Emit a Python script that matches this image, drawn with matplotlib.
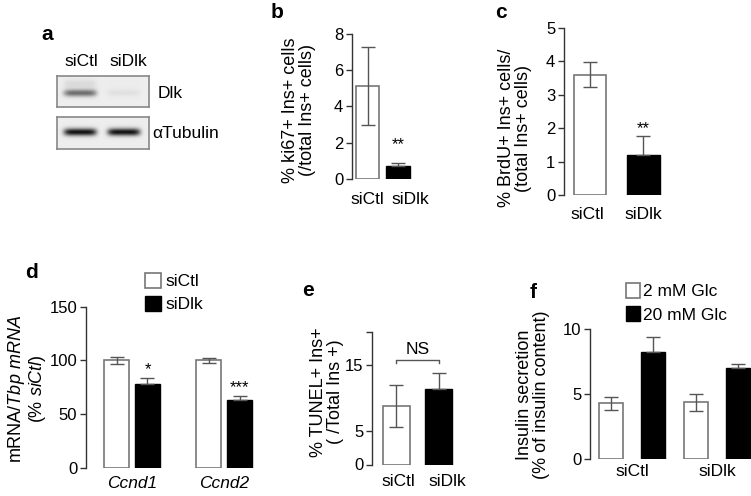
import matplotlib
matplotlib.use("Agg")
import matplotlib.pyplot as plt
import numpy as np

plt.rcParams['font.family'] = ['Liberation Sans', 'DejaVu Sans']
plt.rcParams['mathtext.fontset'] = 'custom'
plt.rcParams['mathtext.rm'] = 'Liberation Sans'
plt.rcParams['mathtext.it'] = 'Liberation Sans:italic'

# ---- data ----
groups2 = ['siCtl', 'siDlk']

# b: ki67
ki67_vals = [5.13, 0.73]
ki67_err = [2.14, 0.17]
# c: BrdU
brdu_vals = [3.6, 1.19]
brdu_err = [0.38, 0.57]
# d: qPCR
genes = ['Ccnd1', 'Ccnd2']
mrna_ctl = [100, 100]
mrna_ctl_err = [3.0, 2.5]
mrna_dlk = [78, 63]
mrna_dlk_err = [5.9, 3.7]
mrna_stars = ['*', '***']
# e: TUNEL
tunel_vals = [8.8, 11.4]
tunel_err = [3.1, 2.3]
# f: insulin secretion
glc_labels = ['2 mM Glc', '20 mM Glc']
ins_low = [4.3, 4.37]
ins_low_err = [0.5, 0.63]
ins_high = [8.2, 7.0]
ins_high_err = [1.2, 0.3]

# a: blot band intensities (siCtl, siDlk)
blot_rows = ['Dlk', 'αTubulin']
band_int = [[0.5, 0.05], [0.85, 0.85]]

W, H = 751, 496
fig = plt.figure(figsize=(7.51, 4.96), dpi=100)

EDGE = '#777777'
ERR = '#555555'
FS = 12
LFS = 13


def px_axes(x0, y0, x1, y1):
    return fig.add_axes([x0 / W, 1 - y1 / H, (x1 - x0) / W, (y1 - y0) / H])


def style(ax, pad):
    for s in ['top', 'right', 'bottom']:
        ax.spines[s].set_visible(False)
    ax.spines['left'].set_color('#333333')
    ax.spines['left'].set_linewidth(1.0)
    ax.tick_params(axis='y', length=4.3, width=1.0, color='#333333', pad=2, labelsize=FS)
    ax.tick_params(axis='x', length=0, pad=pad, labelsize=FS + 0.5)


def bars(ax, x, vals, err, width, dark):
    if dark:
        ax.bar(x, vals, width, color='black', edgecolor='black', linewidth=1.0, zorder=2)
        ax.errorbar(x, vals, yerr=[np.zeros(len(err)), err], fmt='none', ecolor=ERR,
                    elinewidth=1.0, capsize=5, capthick=1.0, zorder=3)
    else:
        ax.bar(x, vals, width, color='white', edgecolor=EDGE, linewidth=1.2, zorder=2)
        ax.errorbar(x, vals, yerr=err, fmt='none', ecolor=ERR,
                    elinewidth=1.0, capsize=5, capthick=1.0, zorder=3)


def ylab(x, y, s, ls=1.05):
    fig.text(x / W, 1 - y / H, s, rotation=90, ha='center', va='center',
             multialignment='center', fontsize=LFS, linespacing=ls)


def letter(x, y, s):
    fig.text(x / W, 1 - y / H, s, ha='center', va='center', fontsize=15, fontweight='bold')


# ---- a: western blot ----
lane_x = [0.25, 0.73]
for r, (ytop, ybot, yc, sy) in enumerate([(76, 107, 0.55, 0.12), (117, 149, 0.47, 0.12)]):
    ax = px_axes(57, ytop, 149, ybot)
    xx = np.linspace(0, 1, 92)
    yy = np.linspace(0, 1, int(ybot - ytop))
    X, Y = np.meshgrid(xx, yy)
    img = np.full(X.shape, 0.93)
    for li, lx in enumerate(lane_x):
        prof_x = np.exp(-((X - lx) / 0.18) ** 6)
        prof_y = np.exp(-((Y - yc) / sy) ** 2)
        img = img - band_int[r][li] * prof_x * prof_y
        if r == 0:
            img = img - 0.15 * band_int[r][li] * prof_x * np.exp(-((Y - 0.25) / 0.15) ** 2)
    ax.imshow(img, cmap='gray', vmin=0, vmax=1, aspect='auto', interpolation='bilinear')
    ax.set_xticks([])
    ax.set_yticks([])
    for s in ax.spines.values():
        s.set_color('#888888')
        s.set_linewidth(1.2)
fig.text(81 / W, 1 - 62 / H, groups2[0], ha='center', va='center', fontsize=12.5)
fig.text(128 / W, 1 - 62 / H, groups2[1], ha='center', va='center', fontsize=12.5)
fig.text(158 / W, 1 - 93 / H, blot_rows[0], ha='left', va='center', fontsize=12.5)
fig.text(152 / W, 1 - 134 / H, blot_rows[1], ha='left', va='center', fontsize=12.5)
letter(47, 35, 'a')

# ---- b: ki67 ----
ax = px_axes(352, 34, 415, 179)
bars(ax, [0], ki67_vals[:1], ki67_err[:1], 0.77, False)
bars(ax, [1], ki67_vals[1:], ki67_err[1:], 0.77, True)
ax.set_ylim(0, 8)
ax.set_yticks([0, 2, 4, 6, 8])
ax.set_xlim(-0.51, 1.557)
ax.set_xticks([0, 1.39])
ax.set_xticklabels(groups2)
style(ax, 9)
ax.text(1, 1.87, '**', ha='center', va='center', fontsize=12)
ylab(299, 110, '% ki67+ Ins+ cells\n(/total Ins+ cells)')
letter(277, 13, 'b')

# ---- c: BrdU ----
ax = px_axes(564, 28, 675, 195)
bars(ax, [0], brdu_vals[:1], brdu_err[:1], 0.61, False)
bars(ax, [1], brdu_vals[1:], brdu_err[1:], 0.61, True)
ax.set_ylim(0, 5)
ax.set_yticks([0, 1, 2, 3, 4, 5])
ax.set_xlim(-0.486, 1.59)
ax.set_xticks([-0.05, 1.0])
ax.set_xticklabels(groups2)
style(ax, 8.5)
ax.text(1, 2.0, '**', ha='center', va='center', fontsize=12)
ylab(515, 128, '% BrdU+ Ins+ cells/\n(total Ins+ cells)')
letter(501, 13, 'c')

# ---- d: qPCR ----
ax = px_axes(86, 306.7, 260, 468)
gx = np.arange(len(genes))
off, bw = 0.168, 0.27
bars(ax, gx - off, mrna_ctl, mrna_ctl_err, bw, False)
bars(ax, gx + off, mrna_dlk, mrna_dlk_err, bw, True)
ax.set_ylim(0, 150)
ax.set_yticks([0, 50, 100, 150])
ax.set_xlim(-0.5, 1.39)
ax.set_xticks(gx)
ax.set_xticklabels(genes, style='italic')
style(ax, 6)
for i, s in enumerate(mrna_stars):
    ax.text(gx[i] + off, mrna_dlk[i] + mrna_dlk_err[i] + 8, s, ha='center', va='center', fontsize=12)
ax.legend(handles=[plt.Rectangle((0, 0), 1, 1, facecolor='white', edgecolor=EDGE, linewidth=1.2),
                   plt.Rectangle((0, 0), 1, 1, facecolor='black', edgecolor='black')],
          labels=groups2, loc='upper left', bbox_to_anchor=(145 / W, 1 - 273 / H),
          bbox_transform=fig.transFigure, frameon=False, fontsize=12.5, handlelength=0.9,
          handleheight=0.95, handletextpad=0.3, labelspacing=0.35, borderpad=0, borderaxespad=0)
ylab(27, 389, 'mRNA/$\\it{Tbp}$ $\\it{mRNA}$\n$\\it{(\\%}$ $\\it{siCtl)}$')
letter(32, 273, 'd')

# ---- e: TUNEL ----
ax = px_axes(372, 331.5, 460, 464.5)
bars(ax, [0], tunel_vals[:1], tunel_err[:1], 0.63, False)
bars(ax, [1], tunel_vals[1:], tunel_err[1:], 0.63, True)
ax.set_ylim(0, 20)
ax.set_yticks([0, 5, 15, 20])
ax.set_yticklabels(['0', '5', '15', ''])
ax.set_xlim(-0.56, 1.49)
ax.set_xticks([0.05, 1.2])
ax.set_xticklabels(groups2)
style(ax, 6.5)
ax.plot([0, 0, 1, 1], [15.2, 15.7, 15.7, 15.2], color=ERR, lw=1.0, clip_on=False)
ax.text(0.5, 17.3, 'NS', ha='center', va='center', fontsize=12.5)
ylab(327, 392, '% TUNEL+ Ins+\n( /Total Ins +)', ls=0.95)
letter(308, 290, 'e')

# ---- f: insulin secretion ----
ax = px_axes(590, 329, 751, 459.3)
gx = np.arange(len(groups2))
off, bw = 0.247, 0.28
bars(ax, gx - off, ins_low, ins_low_err, bw, False)
bars(ax, gx + off, ins_high, ins_high_err, bw, True)
ax.set_ylim(0, 10)
ax.set_yticks([0, 5, 10])
ax.set_xlim(-0.494, 1.4)
ax.set_xticks(gx)
ax.set_xticklabels(groups2)
style(ax, 3.5)
ax.legend(handles=[plt.Rectangle((0, 0), 1, 1, facecolor='white', edgecolor=EDGE, linewidth=1.2),
                   plt.Rectangle((0, 0), 1, 1, facecolor='black', edgecolor='black')],
          labels=glc_labels, loc='upper left', bbox_to_anchor=(626 / W, 1 - 283 / H),
          bbox_transform=fig.transFigure, frameon=False, fontsize=12.5, handlelength=0.8,
          handleheight=0.95, handletextpad=0.2, labelspacing=0.4, borderpad=0, borderaxespad=0)
ylab(533, 395, 'Insulin secretion\n(% of insulin content)')
letter(533, 292, 'f')

fig.savefig('out.png', dpi=100)
